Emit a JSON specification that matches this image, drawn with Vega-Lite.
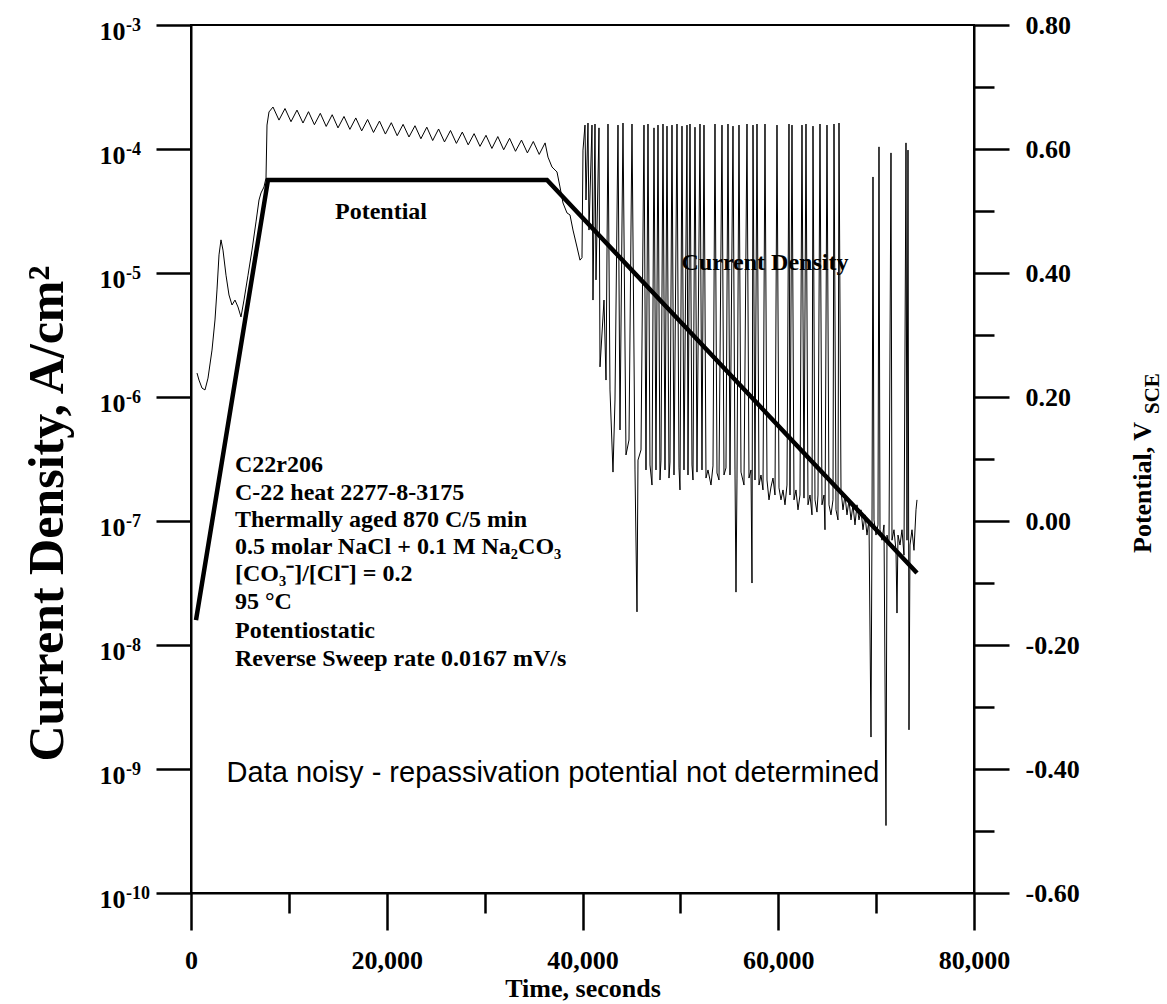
{
  "$schema": "https://vega.github.io/schema/vega-lite/v6.json",
  "width": 783,
  "height": 868,
  "autosize": {"type": "none"},
  "padding": {"left": 191, "top": 25, "right": 193, "bottom": 111},
  "background": "white",
  "config": {
    "view": {"stroke": "black", "strokeWidth": 2},
    "axis": {
      "domainColor": "black", "domainWidth": 2, "tickColor": "black", "tickWidth": 2.5,
      "labelColor": "black", "titleColor": "black",
      "labelFont": "Liberation Serif", "titleFont": "Liberation Serif",
      "labelFontWeight": "bold", "titleFontWeight": "bold", "grid": false,
      "labelOverlap": false, "labelFlush": false, "labelBound": false
    }
  },
  "datasets": {
    "current": [
      {"time": 613, "current_density": 1.56e-6}, {"time": 817, "current_density": 1.37e-6},
      {"time": 1124, "current_density": 1.18e-6}, {"time": 1430, "current_density": 1.14e-6},
      {"time": 1737, "current_density": 1.42e-6}, {"time": 2146, "current_density": 2.39e-6},
      {"time": 2452, "current_density": 4.18e-6}, {"time": 2656, "current_density": 7.3e-6},
      {"time": 2861, "current_density": 1.40e-5}, {"time": 3065, "current_density": 1.85e-5},
      {"time": 3269, "current_density": 1.53e-5}, {"time": 3576, "current_density": 9.6e-6},
      {"time": 3882, "current_density": 6.65e-6}, {"time": 4189, "current_density": 5.52e-6},
      {"time": 4495, "current_density": 6.05e-6}, {"time": 4802, "current_density": 5.32e-6},
      {"time": 5108, "current_density": 4.42e-6}, {"time": 5415, "current_density": 6.05e-6},
      {"time": 5824, "current_density": 9.6e-6}, {"time": 6232, "current_density": 1.53e-5},
      {"time": 6641, "current_density": 2.58e-5}, {"time": 6948, "current_density": 3.88e-5},
      {"time": 7152, "current_density": 4.42e-5}, {"time": 7458, "current_density": 4.94e-5},
      {"time": 7663, "current_density": 5.84e-5}, {"time": 7765, "current_density": 1.56e-4},
      {"time": 7969, "current_density": 1.99e-4},
      {"time": 8378, "current_density": 2.18e-4}, {"time": 8991, "current_density": 1.71e-4},
      {"time": 9604, "current_density": 2.12e-4}, {"time": 10217, "current_density": 1.66e-4},
      {"time": 10830, "current_density": 2.06e-4}, {"time": 11443, "current_density": 1.62e-4},
      {"time": 12005, "current_density": 2.0e-4}, {"time": 12608, "current_density": 1.57e-4},
      {"time": 13211, "current_density": 1.94e-4}, {"time": 13813, "current_density": 1.52e-4},
      {"time": 14426, "current_density": 1.89e-4}, {"time": 15019, "current_density": 1.48e-4},
      {"time": 15632, "current_density": 1.83e-4}, {"time": 16234, "current_density": 1.44e-4},
      {"time": 16837, "current_density": 1.78e-4}, {"time": 17440, "current_density": 1.40e-4},
      {"time": 18043, "current_density": 1.73e-4}, {"time": 18646, "current_density": 1.36e-4},
      {"time": 19259, "current_density": 1.68e-4}, {"time": 19862, "current_density": 1.32e-4},
      {"time": 20465, "current_density": 1.63e-4}, {"time": 21068, "current_density": 1.28e-4},
      {"time": 21671, "current_density": 1.58e-4}, {"time": 22273, "current_density": 1.25e-4},
      {"time": 22886, "current_density": 1.54e-4}, {"time": 23489, "current_density": 1.21e-4},
      {"time": 24092, "current_density": 1.50e-4}, {"time": 24695, "current_density": 1.17e-4},
      {"time": 25298, "current_density": 1.45e-4}, {"time": 25900, "current_density": 1.14e-4},
      {"time": 26513, "current_density": 1.41e-4}, {"time": 27116, "current_density": 1.11e-4},
      {"time": 27719, "current_density": 1.37e-4}, {"time": 28322, "current_density": 1.08e-4},
      {"time": 28924, "current_density": 1.33e-4}, {"time": 29527, "current_density": 1.05e-4},
      {"time": 30140, "current_density": 1.29e-4}, {"time": 30743, "current_density": 1.01e-4},
      {"time": 31346, "current_density": 1.26e-4}, {"time": 31949, "current_density": 9.86e-5},
      {"time": 32551, "current_density": 1.22e-4}, {"time": 33154, "current_density": 9.58e-5},
      {"time": 33767, "current_density": 1.18e-4}, {"time": 34370, "current_density": 9.3e-5},
      {"time": 34973, "current_density": 1.15e-4}, {"time": 35576, "current_density": 9.04e-5},
      {"time": 36179, "current_density": 1.12e-4},
      {"time": 36475, "current_density": 8.6e-5}, {"time": 36883, "current_density": 7.16e-5},
      {"time": 37394, "current_density": 6.53e-5}, {"time": 37700, "current_density": 4.94e-5},
      {"time": 38007, "current_density": 3.67e-5}, {"time": 38416, "current_density": 3.05e-5},
      {"time": 38722, "current_density": 2.94e-5}, {"time": 39029, "current_density": 2.22e-5},
      {"time": 39437, "current_density": 1.62e-5}, {"time": 39744, "current_density": 1.27e-5},
      {"time": 39948, "current_density": 1.33e-5}, {"time": 40050, "current_density": 9.8e-5},
      {"time": 40255, "current_density": 1.56e-4}, {"time": 40357, "current_density": 3.88e-5},
      {"time": 40561, "current_density": 1.62e-4}, {"time": 40664, "current_density": 2.22e-5},
      {"time": 40970, "current_density": 1.56e-4}, {"time": 41072, "current_density": 6.05e-6},
      {"time": 41277, "current_density": 1.59e-4}, {"time": 41379, "current_density": 8.8e-6},
      {"time": 41685, "current_density": 1.48e-4}, {"time": 41788, "current_density": 1.75e-6},
      {"time": 42196, "current_density": 6.05e-6}, {"time": 42401, "current_density": 1.37e-6},
      {"time": 42605, "current_density": 1.59e-4}, {"time": 42809, "current_density": 1.14e-6},
      {"time": 43116, "current_density": 2.48e-7}, {"time": 43320, "current_density": 9.46e-7},
      {"time": 43627, "current_density": 1.56e-4}, {"time": 43831, "current_density": 5.42e-7},
      {"time": 44137, "current_density": 1.62e-4}, {"time": 44444, "current_density": 3.41e-7},
      {"time": 44750, "current_density": 4.5e-7}, {"time": 45057, "current_density": 1.59e-4},
      {"time": 45363, "current_density": 2.58e-7}, {"time": 45568, "current_density": 1.85e-8},
      {"time": 45670, "current_density": 3.1e-7}, {"time": 45977, "current_density": 3.74e-7},
      {"time": 46283, "current_density": 1.56e-4}, {"time": 46487, "current_density": 2.58e-7},
      {"time": 46692, "current_density": 1.59e-4}, {"time": 46896, "current_density": 2.83e-7},
      {"time": 47100, "current_density": 1.95e-7}, {"time": 47305, "current_density": 1.48e-4},
      {"time": 47509, "current_density": 2.58e-7}, {"time": 47713, "current_density": 1.56e-4},
      {"time": 47918, "current_density": 2.14e-7}, {"time": 48020, "current_density": 3.1e-7},
      {"time": 48224, "current_density": 1.59e-4}, {"time": 48429, "current_density": 2.58e-7},
      {"time": 48633, "current_density": 1.53e-4}, {"time": 48837, "current_density": 2.22e-7},
      {"time": 48939, "current_density": 2.99e-7}, {"time": 49144, "current_density": 1.56e-4},
      {"time": 49348, "current_density": 2.35e-7}, {"time": 49655, "current_density": 1.59e-4},
      {"time": 49859, "current_density": 2.68e-7}, {"time": 49961, "current_density": 1.78e-7},
      {"time": 50165, "current_density": 1.53e-4}, {"time": 50370, "current_density": 2.58e-7},
      {"time": 50676, "current_density": 1.56e-4}, {"time": 50778, "current_density": 2.35e-7},
      {"time": 50983, "current_density": 1.59e-4}, {"time": 51187, "current_density": 2.83e-7},
      {"time": 51289, "current_density": 2.14e-7}, {"time": 51494, "current_density": 1.50e-4},
      {"time": 51698, "current_density": 2.48e-7}, {"time": 52005, "current_density": 1.59e-4},
      {"time": 52209, "current_density": 2.58e-7}, {"time": 52413, "current_density": 1.56e-4},
      {"time": 52618, "current_density": 2.22e-7}, {"time": 52822, "current_density": 2.58e-7},
      {"time": 53128, "current_density": 1.95e-7}, {"time": 53333, "current_density": 2.78e-7},
      {"time": 53537, "current_density": 1.59e-4}, {"time": 53741, "current_density": 2.44e-7},
      {"time": 53946, "current_density": 2.14e-7}, {"time": 54252, "current_density": 1.56e-4},
      {"time": 54457, "current_density": 2.35e-7}, {"time": 54661, "current_density": 2.68e-7},
      {"time": 54865, "current_density": 1.59e-4}, {"time": 55070, "current_density": 2.35e-7},
      {"time": 55376, "current_density": 1.53e-4}, {"time": 55580, "current_density": 2.58e-7},
      {"time": 55683, "current_density": 2.67e-8}, {"time": 55785, "current_density": 2.22e-7},
      {"time": 55989, "current_density": 1.56e-4}, {"time": 56194, "current_density": 2.48e-7},
      {"time": 56500, "current_density": 1.95e-7}, {"time": 56807, "current_density": 1.59e-4},
      {"time": 57011, "current_density": 2.22e-7}, {"time": 57215, "current_density": 2.58e-7},
      {"time": 57317, "current_density": 3.16e-8}, {"time": 57420, "current_density": 1.56e-4},
      {"time": 57624, "current_density": 2.14e-7}, {"time": 57828, "current_density": 1.59e-4},
      {"time": 58033, "current_density": 1.95e-7}, {"time": 58237, "current_density": 2.35e-7},
      {"time": 58441, "current_density": 1.78e-7}, {"time": 58646, "current_density": 1.59e-4},
      {"time": 58850, "current_density": 2.14e-7}, {"time": 59054, "current_density": 1.48e-7},
      {"time": 59259, "current_density": 1.88e-7}, {"time": 59463, "current_density": 2.22e-7},
      {"time": 59667, "current_density": 1.62e-7}, {"time": 59872, "current_density": 1.56e-4},
      {"time": 60076, "current_density": 1.85e-7}, {"time": 60280, "current_density": 1.48e-7},
      {"time": 60485, "current_density": 1.78e-7}, {"time": 60689, "current_density": 1.35e-7},
      {"time": 60893, "current_density": 1.95e-7}, {"time": 61098, "current_density": 1.59e-4},
      {"time": 61200, "current_density": 1.62e-7}, {"time": 61404, "current_density": 1.56e-4},
      {"time": 61609, "current_density": 1.48e-7}, {"time": 61813, "current_density": 1.78e-7},
      {"time": 62017, "current_density": 1.23e-7}, {"time": 62222, "current_density": 1.62e-7},
      {"time": 62426, "current_density": 1.56e-4}, {"time": 62630, "current_density": 1.53e-7},
      {"time": 62835, "current_density": 1.59e-4}, {"time": 63039, "current_density": 1.35e-7},
      {"time": 63243, "current_density": 1.62e-7}, {"time": 63448, "current_density": 1.12e-7},
      {"time": 63550, "current_density": 1.53e-4}, {"time": 63754, "current_density": 1.48e-7},
      {"time": 63958, "current_density": 1.18e-7}, {"time": 64061, "current_density": 1.62e-7},
      {"time": 64265, "current_density": 1.59e-4}, {"time": 64469, "current_density": 1.35e-7},
      {"time": 64674, "current_density": 1.62e-7}, {"time": 64776, "current_density": 8.5e-8},
      {"time": 64980, "current_density": 1.56e-4}, {"time": 65184, "current_density": 1.35e-7},
      {"time": 65389, "current_density": 1.12e-7}, {"time": 65593, "current_density": 1.48e-7},
      {"time": 65695, "current_density": 1.59e-4}, {"time": 65900, "current_density": 1.23e-7},
      {"time": 66104, "current_density": 1.02e-7}, {"time": 66206, "current_density": 1.62e-4},
      {"time": 66411, "current_density": 1.78e-7}, {"time": 66615, "current_density": 1.23e-7},
      {"time": 66819, "current_density": 1.62e-7}, {"time": 67024, "current_density": 1.12e-7},
      {"time": 67228, "current_density": 1.48e-7}, {"time": 67432, "current_density": 1.02e-7},
      {"time": 67637, "current_density": 1.35e-7}, {"time": 67841, "current_density": 9.3e-8},
      {"time": 68045, "current_density": 1.35e-7}, {"time": 68250, "current_density": 1.02e-7},
      {"time": 68454, "current_density": 1.23e-7}, {"time": 68658, "current_density": 8.5e-8},
      {"time": 68863, "current_density": 1.12e-7}, {"time": 69067, "current_density": 7.7e-8},
      {"time": 69271, "current_density": 1.02e-7}, {"time": 69476, "current_density": 1.81e-9},
      {"time": 69578, "current_density": 9.3e-8}, {"time": 69680, "current_density": 5.95e-5},
      {"time": 69782, "current_density": 1.02e-7}, {"time": 69986, "current_density": 7.7e-8},
      {"time": 70191, "current_density": 9.3e-8}, {"time": 70293, "current_density": 1.04e-4},
      {"time": 70395, "current_density": 8.5e-8}, {"time": 70599, "current_density": 7.0e-8},
      {"time": 70804, "current_density": 9.3e-8}, {"time": 71008, "current_density": 3.5e-10},
      {"time": 71110, "current_density": 7.7e-8}, {"time": 71315, "current_density": 6.4e-8},
      {"time": 71519, "current_density": 9.3e-5}, {"time": 71621, "current_density": 7.0e-8},
      {"time": 71826, "current_density": 8.5e-8}, {"time": 72030, "current_density": 5.8e-8},
      {"time": 72132, "current_density": 1.81e-8}, {"time": 72234, "current_density": 7.7e-8},
      {"time": 72439, "current_density": 6.4e-8}, {"time": 72643, "current_density": 8.5e-8},
      {"time": 72847, "current_density": 5.3e-8}, {"time": 73052, "current_density": 1.12e-4},
      {"time": 73154, "current_density": 7.0e-8}, {"time": 73256, "current_density": 9.8e-5},
      {"time": 73358, "current_density": 2.07e-9}, {"time": 73460, "current_density": 6.4e-8},
      {"time": 73665, "current_density": 8.5e-8}, {"time": 73869, "current_density": 5.8e-8},
      {"time": 74073, "current_density": 1.23e-7}, {"time": 74175, "current_density": 1.48e-7}
    ],
    "decades": [
      {"current_density": 1e-3, "exponent": "-3"},
      {"current_density": 1e-4, "exponent": "-4"},
      {"current_density": 1e-5, "exponent": "-5"},
      {"current_density": 1e-6, "exponent": "-6"},
      {"current_density": 1e-7, "exponent": "-7"},
      {"current_density": 1e-8, "exponent": "-8"},
      {"current_density": 1e-9, "exponent": "-9"},
      {"current_density": 1e-10, "exponent": "-10"}
    ],
    "potential": [
      {"time": 511, "potential": -0.16},
      {"time": 7867, "potential": 0.55},
      {"time": 36373, "potential": 0.55},
      {"time": 74175, "potential": -0.084}
    ],
    "curve_labels": [
      {"label": "Potential", "time": 19412, "potential": 0.498},
      {"label": "Current Density", "time": 58646, "potential": 0.416}
    ],
    "conditions": [
      {"label": "C22r206", "time": 4495, "potential": 0.0903},
      {"label": "C-22 heat 2277-8-3175", "time": 4495, "potential": 0.0452},
      {"label": "Thermally aged 870 C/5 min", "time": 4495, "potential": 0.0016},
      {"label": "0.5 molar NaCl + 0.1 M Na₂CO₃", "time": 4495, "potential": -0.0419},
      {"label": "[CO₃⁻]/[Cl⁻] = 0.2", "time": 4495, "potential": -0.0855},
      {"label": "95 °C", "time": 4495, "potential": -0.1306},
      {"label": "Potentiostatic", "time": 4495, "potential": -0.1774},
      {"label": "Reverse Sweep rate 0.0167 mV/s", "time": 4495, "potential": -0.2226}
    ],
    "note": [
      {"label": "Data noisy - repassivation potential not determined", "time": 36986, "potential": -0.4065}
    ],
    "right_title": [{"label": "Potential, V"}],
    "right_title_sub": [{"label": "SCE"}]
  },
  "layer": [
    {
      "layer": [
        {
          "data": {"name": "current"},
          "mark": {"type": "line", "color": "black", "strokeWidth": 1},
          "encoding": {
            "x": {
              "field": "time", "type": "quantitative",
              "scale": {"domain": [0, 80000], "nice": false, "zero": false},
              "axis": {
                "orient": "bottom",
                "values": [0, 20000, 40000, 60000, 80000],
                "tickSize": 37, "format": ",.0f",
                "labelFontSize": 26, "labelPadding": 17,
                "title": "Time, seconds", "titleFontSize": 26, "titlePadding": 2
              }
            },
            "y": {
              "field": "current_density", "type": "quantitative",
              "scale": {"type": "log", "domain": [1e-10, 1e-3], "nice": false},
              "axis": {
                "orient": "left",
                "values": [1e-10, 1e-9, 1e-8, 1e-7, 1e-6, 1e-5, 1e-4, 1e-3],
                "tickSize": 35, "labelFontSize": 26, "labelPadding": 31,
                "labelExpr": "'10'", "labelBaseline": "alphabetic", "labelOffset": 14,
                "title": "Current Density, A/cm²", "titleFontSize": 50,
                "titleX": -129, "titleY": 488, "titleAngle": 270,
                "titleAlign": "center", "titleBaseline": "alphabetic"
              }
            }
          }
        },
        {
          "data": {"name": "decades"},
          "mark": {"type": "text", "font": "Liberation Serif", "fontWeight": "bold", "fontSize": 18, "align": "left", "baseline": "alphabetic", "dy": 6, "color": "black"},
          "encoding": {
            "x": {"datum": -6641, "type": "quantitative", "axis": null},
            "y": {"field": "current_density", "type": "quantitative", "axis": null},
            "text": {"field": "exponent"}
          }
        }
      ],
      "resolve": {"axis": {"x": "independent", "y": "independent"}}
    },
    {
      "layer": [
        {
          "data": {"name": "potential"},
          "mark": {"type": "line", "color": "black", "strokeWidth": 4.5},
          "encoding": {
            "x": {
              "field": "time", "type": "quantitative",
              "scale": {"domain": [0, 80000], "nice": false, "zero": false},
              "axis": {
                "orient": "bottom",
                "values": [10000, 30000, 50000, 70000],
                "tickSize": 20, "labels": false, "domain": false, "title": null
              }
            },
            "y": {
              "field": "potential", "type": "quantitative",
              "scale": {"domain": [-0.6, 0.8], "nice": false, "zero": false},
              "axis": {
                "orient": "right",
                "values": [-0.6, -0.4, -0.2, 0, 0.2, 0.4, 0.6, 0.8],
                "tickSize": 35,
                "labelExpr": "(datum.value < -0.001 ? '-' : '') + format(abs(datum.value), '.2f')",
                "labelFontSize": 26, "labelPadding": 16,
                "title": null
              }
            }
          }
        },
        {
          "data": {"name": "curve_labels"},
          "mark": {"type": "text", "font": "Liberation Serif", "fontWeight": "bold", "fontSize": 24, "align": "center", "baseline": "middle", "color": "black"},
          "encoding": {
            "x": {"field": "time", "type": "quantitative", "axis": null},
            "y": {
              "field": "potential", "type": "quantitative",
              "axis": {
                "orient": "right",
                "values": [-0.5, -0.3, -0.1, 0.1, 0.3, 0.5, 0.7],
                "tickSize": 20, "labels": false, "domain": false, "title": null
              }
            },
            "text": {"field": "label"}
          }
        },
        {
          "data": {"name": "conditions"},
          "mark": {"type": "text", "font": "Liberation Serif", "fontWeight": "bold", "fontSize": 24, "align": "left", "baseline": "middle", "color": "black"},
          "encoding": {
            "x": {"field": "time", "type": "quantitative", "axis": null},
            "y": {"field": "potential", "type": "quantitative", "axis": null},
            "text": {"field": "label"}
          }
        },
        {
          "data": {"name": "note"},
          "mark": {"type": "text", "font": "Liberation Sans", "fontWeight": "normal", "fontSize": 29, "align": "center", "baseline": "middle", "color": "black"},
          "encoding": {
            "x": {"field": "time", "type": "quantitative", "axis": null},
            "y": {"field": "potential", "type": "quantitative", "axis": null},
            "text": {"field": "label"}
          }
        },
        {
          "data": {"name": "right_title"},
          "mark": {"type": "text", "font": "Liberation Serif", "fontWeight": "bold", "fontSize": 26, "align": "left", "baseline": "alphabetic", "angle": 270, "color": "black"},
          "encoding": {
            "x": {"datum": 98083, "type": "quantitative", "axis": null},
            "y": {"datum": -0.0516, "type": "quantitative", "axis": null},
            "text": {"field": "label"}
          }
        },
        {
          "data": {"name": "right_title_sub"},
          "mark": {"type": "text", "font": "Liberation Serif", "fontWeight": "bold", "fontSize": 21, "align": "left", "baseline": "alphabetic", "angle": 270, "color": "black"},
          "encoding": {
            "x": {"datum": 98901, "type": "quantitative", "axis": null},
            "y": {"datum": 0.1726, "type": "quantitative", "axis": null},
            "text": {"field": "label"}
          }
        }
      ],
      "resolve": {"axis": {"x": "independent", "y": "independent"}}
    }
  ],
  "resolve": {"scale": {"y": "independent"}, "axis": {"x": "independent"}}
}
